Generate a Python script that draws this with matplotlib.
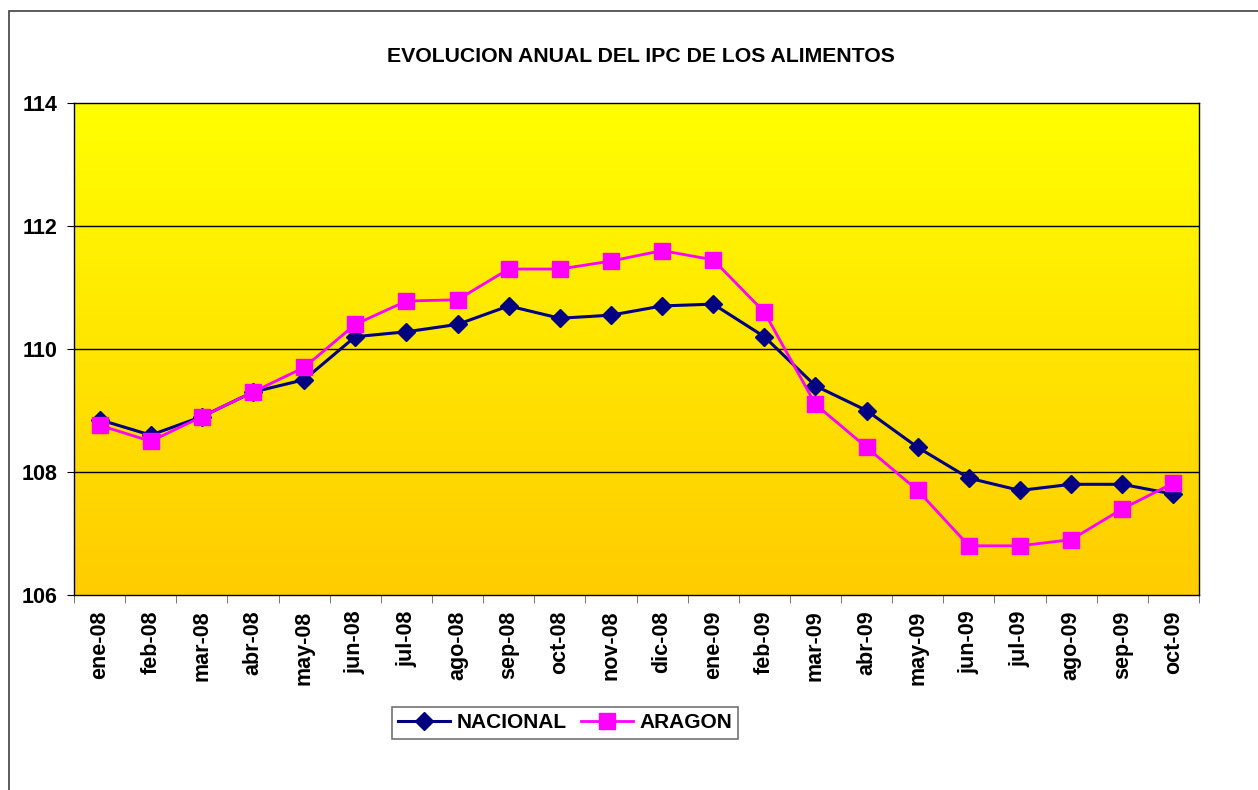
import numpy as np
import matplotlib
matplotlib.use("Agg")
import matplotlib.pyplot as plt
from matplotlib.colors import LinearSegmentedColormap
from matplotlib.patches import Rectangle

months = ["ene-08", "feb-08", "mar-08", "abr-08", "may-08", "jun-08", "jul-08",
          "ago-08", "sep-08", "oct-08", "nov-08", "dic-08", "ene-09", "feb-09",
          "mar-09", "abr-09", "may-09", "jun-09", "jul-09", "ago-09", "sep-09",
          "oct-09"]
nacional = [108.85, 108.6, 108.9, 109.3, 109.5, 110.2, 110.28, 110.4, 110.7,
            110.5, 110.55, 110.7, 110.73, 110.2, 109.4, 109.0, 108.4, 107.9,
            107.7, 107.8, 107.8, 107.64]
aragon = [108.76, 108.5, 108.9, 109.3, 109.7, 110.4, 110.78, 110.8, 111.3,
          111.3, 111.43, 111.6, 111.45, 110.6, 109.1, 108.4, 107.7, 106.8,
          106.8, 106.9, 107.4, 107.82]
yticks = [106, 108, 110, 112, 114]

plt.rcParams["font.family"] = ["Liberation Sans", "DejaVu Sans"]
plt.rcParams["font.weight"] = "bold"

fig = plt.figure(figsize=(12.58, 7.9), dpi=100)
fig.patch.set_facecolor("white")

# outer chart frame
fig.patches.append(Rectangle((9 / 1258, -0.05), 1.1, 1 - 11 / 790 + 0.05,
                             transform=fig.transFigure, fill=False,
                             edgecolor="#404040", linewidth=1.2))

ax = fig.add_axes([74 / 1258, 1 - 595 / 790, (1199 - 74) / 1258, (595 - 103) / 790])

n = len(months)
x = np.arange(n)
ax.set_xlim(-0.5, n - 0.5)
ax.set_ylim(106, 114)

# vertical yellow gradient background
cmap = LinearSegmentedColormap.from_list("bg", ["#FFCC00", "#FFFF00"])
grad = np.linspace(0, 1, 256).reshape(-1, 1)
ax.imshow(grad, aspect="auto", cmap=cmap, origin="lower",
          extent=(-0.5, n - 0.5, 106, 114), zorder=0)

for yv in yticks[1:-1]:
    ax.axhline(yv, color="black", linewidth=1, zorder=1)

ax.plot(x, nacional, color="#000080", linewidth=2.2, marker="D",
        markersize=9, markerfacecolor="#000080", markeredgecolor="#000080",
        label="NACIONAL", zorder=3)
ax.plot(x, aragon, color="#FF00FF", linewidth=2.0, marker="s",
        markersize=11, markerfacecolor="#FF00FF", markeredgecolor="#FF00FF",
        label="ARAGON", zorder=4)

ax.set_yticks(yticks)
ax.set_yticklabels([str(v) for v in yticks], fontsize=15.5, fontweight="bold")
ax.set_xticks(x)
ax.set_xticklabels(months, rotation=90, fontsize=15.5, fontweight="bold")
ax.tick_params(axis="x", which="major", length=0, pad=11)
ax.set_xticks(np.arange(-0.5, n, 1), minor=True)
ax.tick_params(axis="x", which="minor", length=6, direction="out", color="#606060")
ax.tick_params(axis="y", length=5, direction="out", pad=7)

for s in ax.spines.values():
    s.set_color("black")
    s.set_linewidth(1)

fig.text(641 / 1258, 1 - 57 / 790, "EVOLUCION ANUAL DEL IPC DE LOS ALIMENTOS",
         ha="center", va="center", fontsize=15.3, fontweight="bold")

leg = fig.legend(loc="center", bbox_to_anchor=(565 / 1258, 1 - 723 / 790),
                 ncol=2, frameon=True, fancybox=False,
                 handlelength=2.5, columnspacing=0.7, handletextpad=0.3,
                 borderpad=0.3, prop={"weight": "bold", "size": 15})
leg.get_frame().set_edgecolor("#505050")
leg.get_frame().set_linewidth(1.2)

fig.savefig("out.png", dpi=100, facecolor="white")
